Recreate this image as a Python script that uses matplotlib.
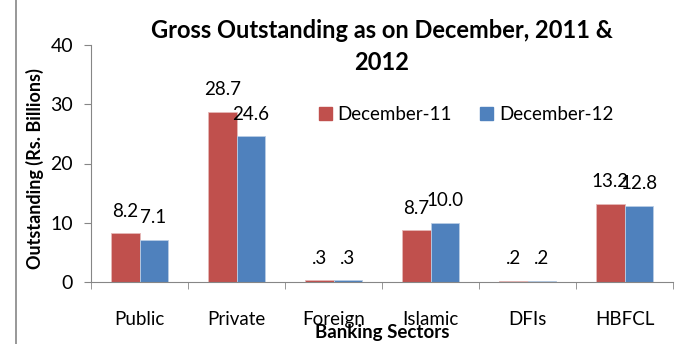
import matplotlib
matplotlib.use("Agg")
import matplotlib.pyplot as plt
from matplotlib.patches import Rectangle, Patch
import numpy as np

plt.rcParams['font.family'] = ['Lato', 'DejaVu Sans']

# datos
sectors = ["Public", "Private", "Foreign", "Islamic", "DFIs", "HBFCL"]
dec_11 = [8.2, 28.7, 0.3, 8.7, 0.2, 13.2]
dec_12 = [7.1, 24.6, 0.3, 10.0, 0.2, 12.8]
series_names = ["December-11", "December-12"]
y_ticks = [0, 10, 20, 30, 40]

red = '#C0504D'
blue = '#4F81BD'
gray = '#868686'

fig = plt.figure(figsize=(6.87, 3.44), dpi=100)
ax = fig.add_axes([91/687, 1 - 282/344, 582/687, 237/344])

# marco exterior del grafico
fig.patches.append(Rectangle((16/687, -0.2), 1.2, 1.2 + 1 - 8/344, transform=fig.transFigure,
                             fill=False, edgecolor=gray, linewidth=1.2))

x = np.arange(len(sectors))
w = 0.29
b1 = ax.bar(x - w/2, dec_11, w, color=red, edgecolor='#E6B8B7', linewidth=0.6)
b2 = ax.bar(x + w/2, dec_12, w, color=blue, edgecolor='#B9CDE5', linewidth=0.6)

def fmt(v):
    s = f"{v:.1f}"
    return s[1:] if s.startswith("0") else s

for bars, vals in [(b1, dec_11), (b2, dec_12)]:
    for bar, v in zip(bars, vals):
        ax.annotate(fmt(v), (bar.get_x() + bar.get_width()/2, v), xytext=(0, 16),
                    textcoords='offset points', ha='center', va='center', fontsize=13.5)

ax.set_xlim(-0.5, len(sectors) - 0.5)
ax.set_ylim(0, 40)
ax.set_yticks(y_ticks)
ax.set_xticks(x)
ax.set_xticklabels(sectors, fontsize=13.5)
ax.set_xticks(np.arange(-0.5, len(sectors)), minor=True)
ax.tick_params(axis='x', which='major', length=0, pad=21)
ax.tick_params(axis='x', which='minor', length=5, color=gray, direction='out')
ax.tick_params(axis='y', length=5, color=gray, labelsize=14, pad=8)

for s in ['top', 'right']:
    ax.spines[s].set_visible(False)
for s in ['left', 'bottom']:
    ax.spines[s].set_color(gray)

ax.set_ylabel("Outstanding (Rs. Billions)", fontsize=13, fontweight='bold')
ax.yaxis.set_label_coords(-47/582, 0.48)
ax.set_xlabel("Banking Sectors", fontsize=13.5, fontweight='bold')
ax.xaxis.set_label_coords(0.5, -42/237)

fig.text(382/687, 1 - 30/344, "Gross Outstanding as on December, 2011 &", ha='center', va='center',
         fontsize=17, fontweight='bold')
fig.text(382/687, 1 - 63/344, "2012", ha='center', va='center', fontsize=17, fontweight='bold')

handles = [Patch(color=red), Patch(color=blue)]
fig.legend(handles, series_names, loc='center', bbox_to_anchor=(466/687, 1 - 115/344), ncol=2,
           frameon=False, fontsize=13.5, handlelength=0.7, handleheight=0.7, handletextpad=0.3,
           columnspacing=1.5)

fig.savefig("out.png", dpi=100)
